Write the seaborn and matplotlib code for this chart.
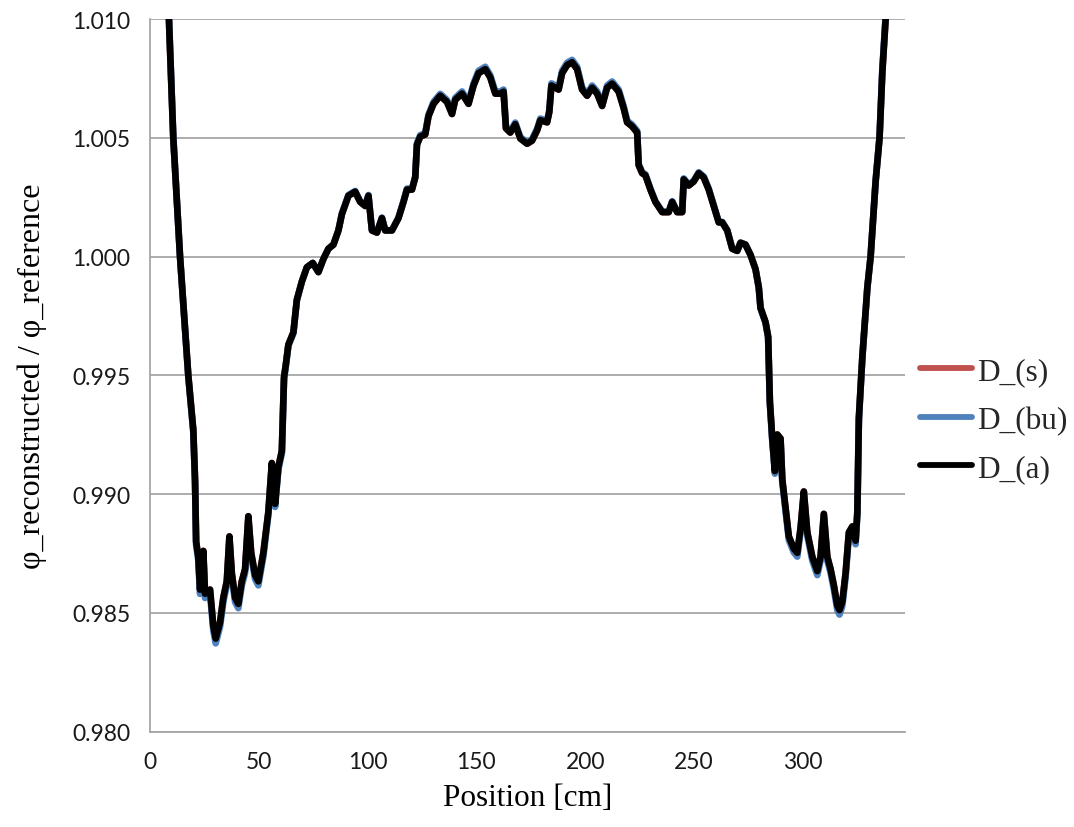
import matplotlib
matplotlib.use("Agg")
import matplotlib.pyplot as plt
from matplotlib.lines import Line2D
import pandas as pd
import seaborn as sns

# Position along the core [cm]
position = [7.5, 8.7, 10.7, 13.8, 17.6, 19.9, 20.7, 21.2, 22.2, 23.0,
            24.5, 25.3, 27.6, 29.1, 30.2, 32.2, 33.7, 35.3, 36.5, 37.6,
            39.1, 40.6, 42.2, 43.7, 45.2, 46.5, 48.3, 49.8, 52.1, 54.4,
            56.0, 57.5, 59.0, 60.6, 61.6, 62.4, 63.6, 65.9, 67.5, 69.8,
            72.1, 74.8, 77.4, 79.7, 82.0, 84.3, 86.6, 88.2, 91.2, 94.3,
            96.6, 98.9, 100.4, 102.0, 104.3, 106.6, 108.1, 111.2, 114.2, 116.5,
            118.1, 120.4, 121.9, 122.7, 124.2, 126.5, 128.0, 130.3, 133.4, 136.5,
            138.8, 140.3, 143.4, 146.4, 148.7, 151.0, 154.1, 156.4, 158.7, 161.0,
            162.5, 163.6, 165.6, 167.9, 170.2, 173.3, 175.6, 177.9, 179.4, 182.5,
            183.5, 184.5, 186.3, 187.8, 189.4, 191.7, 194.0, 196.3, 198.6, 200.9,
            203.2, 205.5, 207.8, 210.1, 212.4, 215.4, 217.7, 219.3, 221.6, 223.9,
            224.6, 226.2, 227.7, 230.0, 232.3, 235.4, 238.4, 240.0, 242.3, 244.6,
            245.3, 247.6, 249.9, 252.2, 254.5, 256.8, 259.1, 261.4, 263.0, 265.3,
            267.6, 269.9, 271.4, 273.7, 276.0, 278.3, 279.8, 280.6, 282.9, 284.1,
            284.9, 286.0, 287.2, 288.3, 289.8, 290.6, 292.1, 293.6, 295.9, 297.5,
            299.0, 300.5, 302.1, 304.4, 306.7, 308.2, 309.7, 311.3, 312.8, 314.3,
            315.9, 316.9, 318.2, 319.7, 321.2, 322.8, 324.3, 325.1, 325.8, 327.4,
            329.7, 331.2, 333.5, 335.3, 336.6, 338.1, 339.5]

# Flux ratio with diffusion coefficient D_(a)
d_a = [1.01300, 1.01000, 1.00500, 1.00000, 0.99500, 0.99270, 0.99060, 0.98800, 0.98736, 0.98598,
       0.98761, 0.98581, 0.98598, 0.98444, 0.98392, 0.98461, 0.98564, 0.98633, 0.98822, 0.98667,
       0.98564, 0.98538, 0.98633, 0.98684, 0.98907, 0.98753, 0.98659, 0.98633, 0.98753, 0.98925,
       0.99131, 0.98959, 0.99114, 0.99182, 0.99492, 0.99543, 0.99629, 0.99681, 0.99818, 0.99895,
       0.99955, 0.99973, 0.99935, 0.99990, 1.00033, 1.00050, 1.00110, 1.00179, 1.00256, 1.00273,
       1.00230, 1.00213, 1.00256, 1.00110, 1.00101, 1.00162, 1.00110, 1.00110, 1.00162, 1.00230,
       1.00282, 1.00282, 1.00333, 1.00471, 1.00505, 1.00514, 1.00591, 1.00643, 1.00677, 1.00651,
       1.00600, 1.00660, 1.00686, 1.00643, 1.00720, 1.00772, 1.00789, 1.00754, 1.00686, 1.00686,
       1.00694, 1.00540, 1.00522, 1.00557, 1.00497, 1.00475, 1.00488, 1.00531, 1.00574, 1.00565,
       1.00608, 1.00720, 1.00711, 1.00703, 1.00772, 1.00806, 1.00818, 1.00789, 1.00703, 1.00677,
       1.00711, 1.00686, 1.00634, 1.00711, 1.00728, 1.00694, 1.00625, 1.00565, 1.00548, 1.00522,
       1.00385, 1.00351, 1.00342, 1.00282, 1.00230, 1.00187, 1.00187, 1.00230, 1.00187, 1.00187,
       1.00325, 1.00299, 1.00316, 1.00351, 1.00333, 1.00282, 1.00213, 1.00144, 1.00144, 1.00110,
       1.00033, 1.00024, 1.00058, 1.00050, 1.00007, 0.99947, 0.99870, 0.99784, 0.99724, 0.99663,
       0.99388, 0.99234, 0.99097, 0.99251, 0.99234, 0.99062, 0.98942, 0.98822, 0.98770, 0.98753,
       0.98856, 0.99011, 0.98839, 0.98736, 0.98676, 0.98736, 0.98917, 0.98736, 0.98684, 0.98616,
       0.98530, 0.98512, 0.98547, 0.98667, 0.98839, 0.98864, 0.98804, 0.98925, 0.99320, 0.99578,
       0.99870, 1.00000, 1.00316, 1.00500, 1.00780, 1.01000, 1.01250]

# Flux ratio with diffusion coefficient D_(bu)
d_bu = [1.01316, 1.01013, 1.00506, 1.00000, 0.99494, 0.99261, 0.99048, 0.98785, 0.98720, 0.98580,
        0.98746, 0.98563, 0.98580, 0.98425, 0.98372, 0.98442, 0.98546, 0.98616, 0.98807, 0.98650,
        0.98546, 0.98520, 0.98616, 0.98668, 0.98893, 0.98737, 0.98642, 0.98616, 0.98737, 0.98912,
        0.99120, 0.98946, 0.99103, 0.99172, 0.99486, 0.99537, 0.99624, 0.99677, 0.99816, 0.99894,
        0.99954, 0.99973, 0.99934, 0.99990, 1.00033, 1.00051, 1.00111, 1.00181, 1.00259, 1.00276,
        1.00233, 1.00216, 1.00259, 1.00111, 1.00102, 1.00164, 1.00111, 1.00111, 1.00164, 1.00233,
        1.00286, 1.00286, 1.00337, 1.00477, 1.00511, 1.00520, 1.00598, 1.00651, 1.00685, 1.00659,
        1.00608, 1.00668, 1.00695, 1.00651, 1.00729, 1.00782, 1.00799, 1.00763, 1.00695, 1.00695,
        1.00703, 1.00547, 1.00529, 1.00564, 1.00503, 1.00481, 1.00494, 1.00538, 1.00581, 1.00572,
        1.00616, 1.00729, 1.00720, 1.00712, 1.00782, 1.00816, 1.00828, 1.00799, 1.00712, 1.00685,
        1.00720, 1.00695, 1.00642, 1.00720, 1.00737, 1.00703, 1.00633, 1.00572, 1.00555, 1.00529,
        1.00390, 1.00355, 1.00346, 1.00286, 1.00233, 1.00189, 1.00189, 1.00233, 1.00189, 1.00189,
        1.00329, 1.00303, 1.00320, 1.00355, 1.00337, 1.00286, 1.00216, 1.00146, 1.00146, 1.00111,
        1.00033, 1.00024, 1.00059, 1.00051, 1.00007, 0.99946, 0.99868, 0.99781, 0.99721, 0.99659,
        0.99380, 0.99224, 0.99086, 0.99242, 0.99224, 0.99050, 0.98929, 0.98807, 0.98755, 0.98737,
        0.98842, 0.98999, 0.98824, 0.98720, 0.98659, 0.98720, 0.98903, 0.98720, 0.98668, 0.98599,
        0.98512, 0.98493, 0.98529, 0.98650, 0.98824, 0.98850, 0.98789, 0.98912, 0.99312, 0.99573,
        0.99868, 1.00000, 1.00320, 1.00506, 1.00790, 1.01013, 1.01266]

# Flux ratio with diffusion coefficient D_(s) (coincides with D_(a))
d_s = list(d_a)

series_names = ["D_(s)", "D_(bu)", "D_(a)"]
series_colors = ["#C0504D", "#4F81BD", "#000000"]
x_ticks = [0, 50, 100, 150, 200, 250, 300]
y_ticks = [0.980, 0.985, 0.990, 0.995, 1.000, 1.005, 1.010]

frames = []
for name, vals in zip(series_names, [d_s, d_bu, d_a]):
    frames.append(pd.DataFrame({"Position": position, "ratio": vals, "series": name}))
df = pd.concat(frames, ignore_index=True)

sns.set_style("white")
plt.rcParams["font.family"] = ["DejaVu Sans"]

fig = plt.figure(figsize=(10.74, 8.28), dpi=100)
ax = fig.add_axes([150 / 1074, 1 - 732.7 / 828, 755 / 1074, (732.7 - 20) / 828])

sns.lineplot(data=df, x="Position", y="ratio", hue="series", hue_order=series_names,
             palette=dict(zip(series_names, series_colors)), estimator=None, sort=False,
             linewidth=4.8, ax=ax, legend=False)
for ln in ax.get_lines():
    ln.set_solid_joinstyle("round")
    ln.set_solid_capstyle("round")

ax.set_xlim(0, 347)
ax.set_ylim(0.980, 1.010)
ax.set_xticks(x_ticks)
ax.set_yticks(y_ticks)
ax.set_yticklabels([f"{v:.3f}" for v in y_ticks])

grid_col = "#a6a6a6"
ax.yaxis.grid(True, color=grid_col, linewidth=1.3)
ax.xaxis.grid(False)
ax.set_axisbelow(True)
for side in ["top", "right"]:
    ax.spines[side].set_visible(False)
for side in ["left", "bottom"]:
    ax.spines[side].set_color(grid_col)
    ax.spines[side].set_linewidth(1.3)

ax.tick_params(axis="both", direction="out", length=8, width=1.3, color=grid_col,
               labelsize=16.5, labelcolor="#1a1a1a", pad=6)
for lbl in ax.get_xticklabels() + ax.get_yticklabels():
    lbl.set_fontfamily("Lato")

serif = "Liberation Serif"
ax.set_xlabel("Position [cm]", fontsize=22.5, fontfamily=serif, color="black", labelpad=8)
ax.set_ylabel("φ_reconstructed / φ_reference", fontsize=23, fontfamily=serif,
              color="black", labelpad=18)

handles = [Line2D([0], [0], color=c, linewidth=4.2) for c in series_colors]
ax.legend(handles, series_names, loc="center left", bbox_to_anchor=(1.02, 0.437),
          frameon=False, borderpad=0, borderaxespad=0, handlelength=1.66,
          handletextpad=0.18, labelspacing=0.62,
          prop={"family": serif, "size": 22.5})

fig.savefig("out.png", dpi=100)
